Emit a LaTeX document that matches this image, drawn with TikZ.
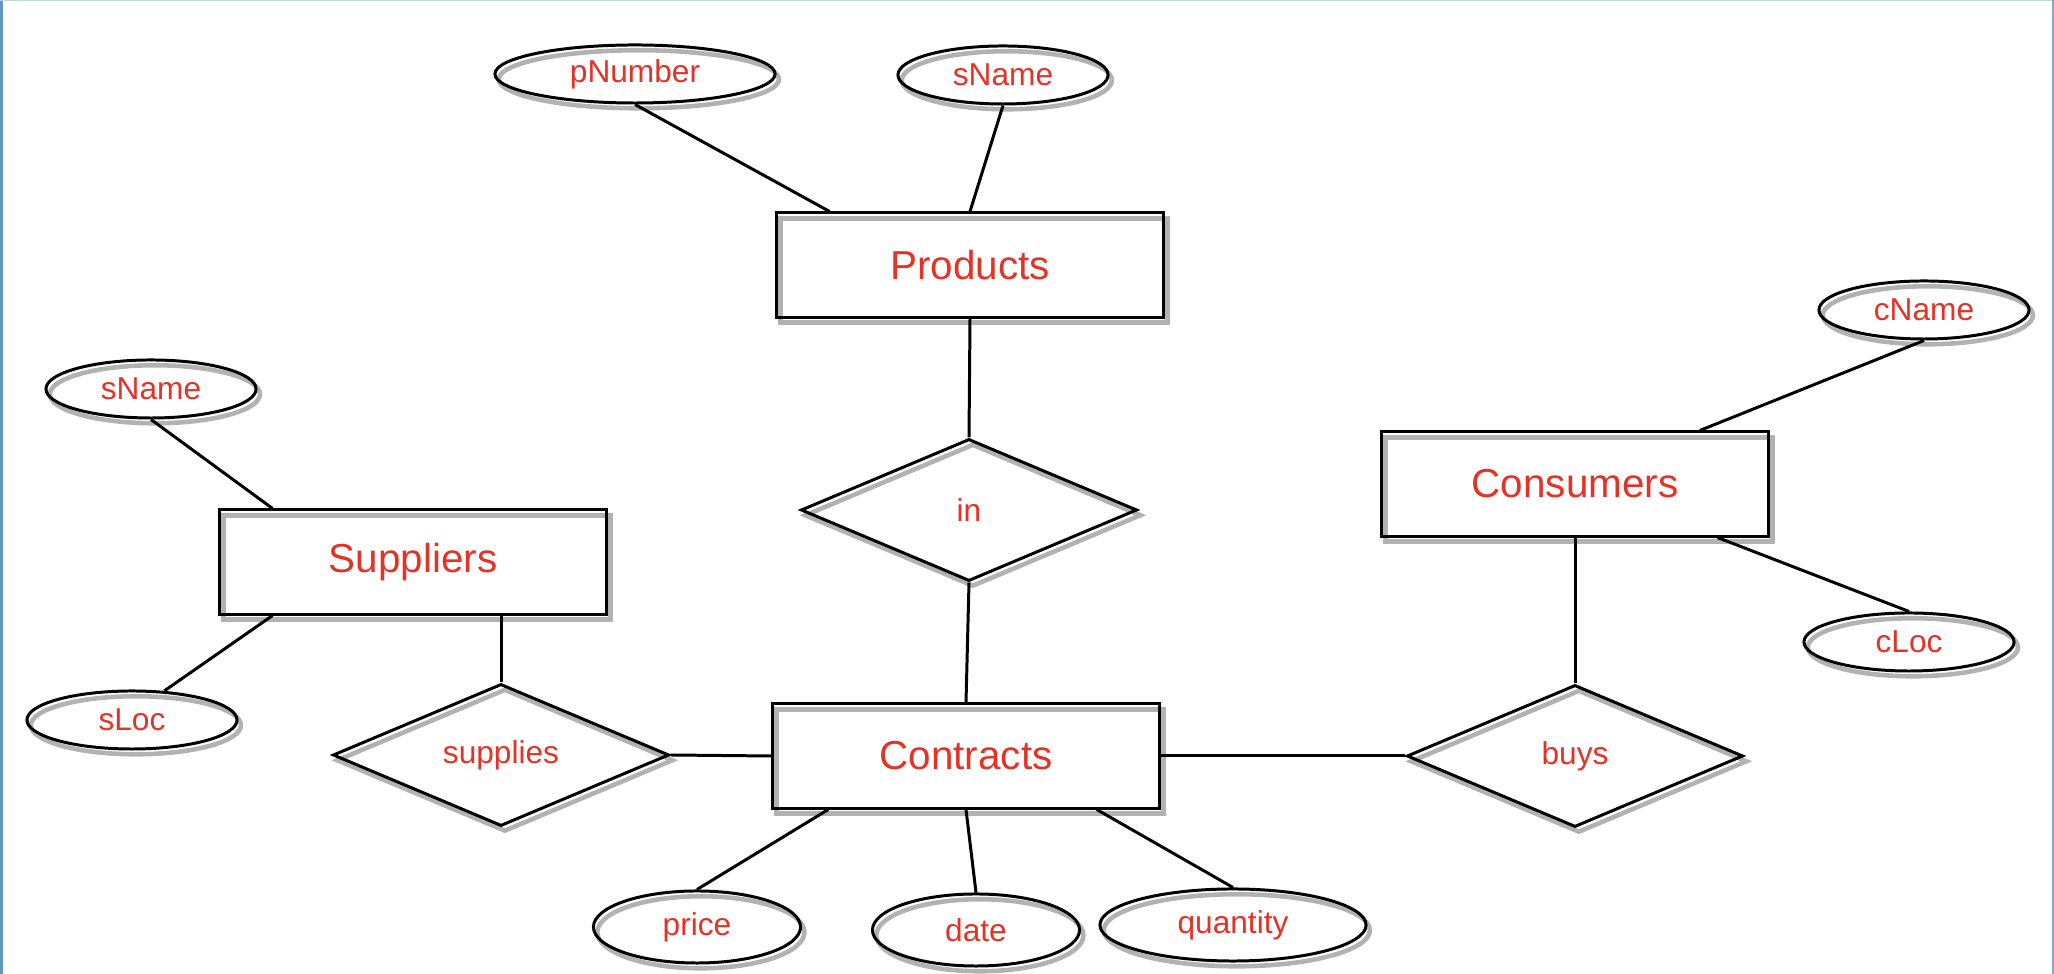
\documentclass[tikz,border=0pt]{standalone}
\usepackage{fontspec}
\setmainfont{Liberation Sans}
\usetikzlibrary{shapes.geometric,calc}
\definecolor{erred}{RGB}{228,50,38}
\definecolor{frameblue}{RGB}{96,152,190}
\tikzset{
	ershadow/.style={preaction={draw=black!30,line width=1.3pt,transform canvas={shift={(1.1pt,-1.5pt)}}}},
	entity/.style={rectangle,draw,line width=0.85pt,ershadow,minimum width=3.87cm,minimum height=1.04cm,font=\fontsize{11.5}{14}\selectfont},
	attrib/.style={ellipse,draw,line width=0.85pt,ershadow,minimum width=2.1cm,minimum height=0.58cm,inner sep=0pt},
	relation/.style={diamond,draw,line width=0.85pt,ershadow,aspect=2.4,minimum width=3.36cm,minimum height=1.42cm,inner sep=0pt},
	link/.style={line width=0.85pt}
}

\begin{document}
\begin{tikzpicture}[x=0.01cm,y=-0.01cm,every node/.style={text=erred,font=\fontsize{9}{11}\selectfont}]
	\useasboundingbox (0,0) rectangle (2054,974);
	\fill[frameblue] (0,0) rectangle (3,974);
	\fill[frameblue!40] (0,0) rectangle (2054,1.5);
	\fill[frameblue!80] (2052,0) rectangle (2054,974);

	\node[attrib,minimum width=2.8cm] (pnum) at (635,74) {pNumber};
	\node[attrib] (pname) at (1003,75) {sName};
	\node[entity] (prod) at (970,265) {Products};
	\node[relation] (inrel) at (969,510) {in};
	\node[entity] (contr) at (966,756) {Contracts};
	\node[relation] (supplies) at (501,755) {supplies};
	\node[entity] (suppl) at (413,562) {Suppliers};
	\node[attrib] (sname) at (151,389) {sName};
	\node[attrib] (sloc) at (132,720) {sLoc};
	\node[entity] (cons) at (1575,484) {Consumers};
	\node[attrib] (cname) at (1924,310) {cName};
	\node[attrib] (cloc) at (1909,642) {cLoc};
	\node[relation] (buys) at (1575,756) {buys};
	\node[attrib,minimum width=2.07cm,minimum height=0.72cm] (price) at (697,927) {price};
	\node[attrib,minimum width=2.07cm,minimum height=0.72cm] (date) at (976,930) {date};
	\node[attrib,minimum width=2.66cm,minimum height=0.72cm] (qty) at (1233,925) {quantity};

	\draw[link] (pnum.south) -- ($(prod.north west)!0.14!(prod.north east)$);
	\draw[link] (pname.south) -- (prod.north);
	\draw[link] (prod.south) -- (inrel.north);
	\draw[link] (inrel.south) -- (contr.north);
	\draw[link] (supplies.east) -- (contr.west);
	\draw[link] (supplies.north) -- (supplies.north |- suppl.south);
	\draw[link] (sname.south) -- ($(suppl.north west)!0.14!(suppl.north east)$);
	\draw[link] (sloc.42) -- ($(suppl.south west)!0.14!(suppl.south east)$);
	\draw[link] (cname.south) -- ($(cons.north west)!0.82!(cons.north east)$);
	\draw[link] ($(cons.south west)!0.865!(cons.south east)$) -- (cloc.north);
	\draw[link] (cons.south) -- (buys.north);
	\draw[link] (contr.east) -- (buys.west);
	\draw[link] (price.north) -- ($(contr.south west)!0.147!(contr.south east)$);
	\draw[link] (date.north) -- (contr.south);
	\draw[link] (qty.north) -- ($(contr.south west)!0.835!(contr.south east)$);
\end{tikzpicture}
\end{document}
